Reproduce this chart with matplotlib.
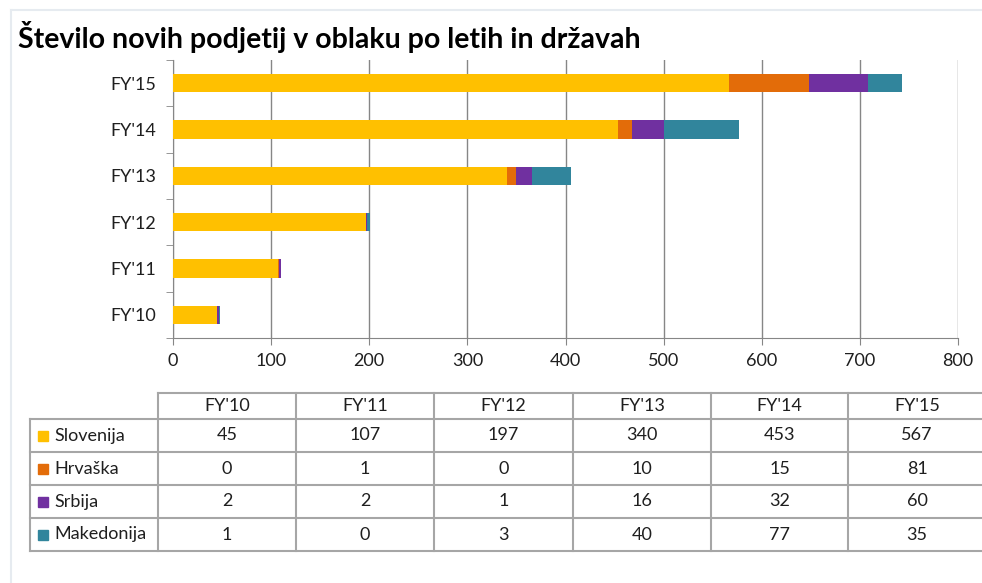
import matplotlib.pyplot as plt
from matplotlib.patches import Rectangle
from matplotlib.lines import Line2D
import numpy as np

years = ["FY'10", "FY'11", "FY'12", "FY'13", "FY'14", "FY'15"]
countries = ["Slovenija", "Hrvaška", "Srbija", "Makedonija"]
slovenija = [45, 107, 197, 340, 453, 567]
hrvaska = [0, 1, 0, 10, 15, 81]
srbija = [2, 2, 1, 16, 32, 60]
makedonija = [1, 0, 3, 40, 77, 35]
colors = ["#FFC000", "#E36C09", "#7030A0", "#31859C"]

W, H = 982, 583
plt.rcParams['font.family'] = ['Lato', 'DejaVu Sans']
fs = 13
txt_col = "#1F1F1F"

fig = plt.figure(figsize=(W / 100, H / 100), dpi=100)


def fx(px):
    return px / W


def fy(py):
    return 1 - py / H


# light outer frame
fig.add_artist(Line2D([fx(11), fx(982)], [fy(10), fy(10)], color="#E6EBF0", lw=1.5))
fig.add_artist(Line2D([fx(11), fx(11)], [fy(10), fy(583)], color="#E6EBF0", lw=1.5))

fig.text(fx(18), fy(37), "Število novih podjetij v oblaku po letih in državah",
         fontsize=20.5, fontweight="bold", va="center", ha="left")

ax = fig.add_axes([fx(173), fy(338), fx(958) - fx(173), fy(60) - fy(338)])
series = [slovenija, hrvaska, srbija, makedonija]
y = np.arange(len(years))
left = np.zeros(len(years))
for vals, c in zip(series, colors):
    ax.barh(y, vals, left=left, height=0.4, color=c, zorder=3)
    left += np.array(vals)

ax.set_xlim(0, 800)
ax.set_ylim(-0.5, len(years) - 0.5)
ax.set_xticks(range(0, 801, 100))
ax.set_yticks(y)
ax.set_yticklabels(years)
ax.set_yticks(np.arange(-0.5, len(years), 1), minor=True)
ax.tick_params(axis="y", which="major", length=0, pad=12, labelsize=fs, labelcolor=txt_col)
ax.tick_params(axis="y", which="minor", length=5, color="#868686", direction="out")
ax.tick_params(axis="x", length=5, color="#868686", labelsize=fs, labelcolor=txt_col, pad=6)
ax.grid(axis="x", color="#868686", lw=1, zorder=0)
for s in ["top", "right"]:
    ax.spines[s].set_visible(False)
for s in ["left", "bottom"]:
    ax.spines[s].set_color("#868686")

# data table
col_x = [158, 296, 434, 573, 711, 848, 986]
label_x0 = 30
row_y = [393, 419, 452, 485, 518, 551]
lc = "#A6A6A6"
lw = 1.5

# horizontal lines
fig.add_artist(Line2D([fx(col_x[0]), fx(col_x[-1])], [fy(row_y[0])] * 2, color=lc, lw=lw))
for ry in row_y[1:]:
    fig.add_artist(Line2D([fx(label_x0), fx(col_x[-1])], [fy(ry)] * 2, color=lc, lw=lw))
# vertical lines
fig.add_artist(Line2D([fx(label_x0)] * 2, [fy(row_y[1]), fy(row_y[-1])], color=lc, lw=lw))
for cx in col_x:
    fig.add_artist(Line2D([fx(cx)] * 2, [fy(row_y[0]), fy(row_y[-1])], color=lc, lw=lw))

for i, yr in enumerate(years):
    cx = (col_x[i] + col_x[i + 1]) / 2
    fig.text(fx(cx), fy((row_y[0] + row_y[1]) / 2), yr, ha="center", va="center",
             fontsize=fs, color=txt_col)

for r, (name, vals, c) in enumerate(zip(countries, series, colors)):
    cy = (row_y[r + 1] + row_y[r + 2]) / 2
    fig.add_artist(Rectangle((fx(38), fy(cy + 5)), fx(10), 10 / H, color=c))
    fig.text(fx(54), fy(cy), name, ha="left", va="center", fontsize=fs, color=txt_col)
    for i, v in enumerate(vals):
        cx = (col_x[i] + col_x[i + 1]) / 2
        fig.text(fx(cx), fy(cy), str(v), ha="center", va="center", fontsize=fs, color=txt_col)

fig.savefig("out.png", dpi=100)
